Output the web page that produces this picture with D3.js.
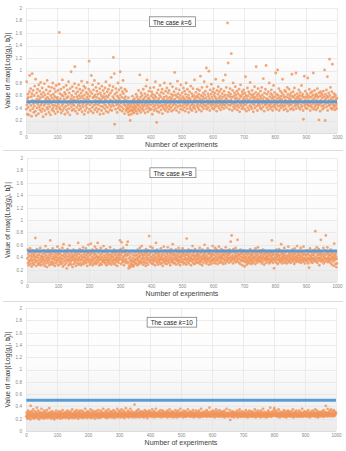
<!DOCTYPE html>
<html>
<head>
<meta charset="utf-8">
<script src="https://cdn.jsdelivr.net/npm/d3@7"></script>
<style>
  body { margin: 0; background: #fff; }
  svg { display: block; font-family: "Liberation Sans", Arial, sans-serif; }
</style>
</head>
<body>
<div id="chart"></div>
<script>
const caseK6 = [
38,82,45,30,55,62,41,57,29,48,66,92,50,36,71,44,58,27,63,95,52,39,68,47,33,
60,43,75,51,35,86,49,28,64,54,40,70,46,59,31,77,53,42,67,37,56,81,45,62,34,
48,72,39,58,26,65,50,44,79,36,61,47,55,30,69,52,41,84,57,38,63,46,74,33,54,
42,67,51,29,60,48,73,37,56,45,80,40,62,35,53,71,44,58,31,66,49,76,39,55,43,
57,34,68,46,52,78,161,41,63,38,55,70,32,49,61,44,85,36,59,47,73,40,54,65,30,
50,62,43,76,37,56,48,69,33,58,45,82,39,64,51,29,71,47,55,98,42,60,36,74,53,
46,67,38,57,44,79,106,52,35,63,49,72,41,58,31,66,54,45,77,37,60,48,70,43,56,
39,64,51,83,34,59,46,68,42,55,75,30,61,49,36,72,53,44,65,40,57,81,47,62,33,
54,70,115,38,59,45,66,50,35,92,48,63,41,77,56,32,69,44,58,84,37,61,52,46,73,
40,57,67,34,51,62,45,79,38,55,48,71,30,64,53,43,60,36,75,49,56,42,68,31,58,
47,63,39,72,54,44,82,35,59,50,66,41,57,33,70,48,61,45,76,37,53,64,42,89,51,
36,68,46,58,74,121,43,55,95,14,62,49,38,71,52,45,65,33,59,47,80,40,56,69,44,
53,37,98,61,48,72,42,57,35,66,50,84,39,63,46,55,31,70,44,58,36,52,67,41,49,
38,45,33,56,40,29,47,35,42,20,51,37,44,30,48,36,59,41,34,53,39,46,32,55,43,
37,50,41,62,35,47,58,31,44,54,39,68,46,36,52,93,42,57,33,64,48,38,60,45,53,
41,70,36,55,49,44,63,32,58,47,75,39,52,85,43,61,34,56,46,67,40,54,37,72,50,
45,59,38,66,51,30,62,47,56,42,73,36,53,60,44,82,39,57,48,17,64,35,52,45,69,
41,55,33,61,48,76,43,58,37,65,50,45,70,31,54,42,63,39,57,80,46,52,36,67,44,
59,40,72,48,55,34,64,51,43,68,38,57,46,79,53,41,62,35,56,49,74,44,60,37,52,
66,47,97,54,40,61,45,71,36,58,50,83,42,63,48,56,33,69,52,44,60,38,77,49,55,
43,64,51,37,58,72,46,55,41,67,53,35,62,48,80,44,57,39,70,52,46,61,33,56,49,
66,42,54,38,75,50,45,63,36,58,47,71,41,60,53,44,85,39,56,49,65,34,52,59,43,
70,46,57,40,62,51,37,68,55,44,91,48,60,35,53,73,42,58,47,64,39,55,82,45,61,
50,67,43,56,104,38,74,52,46,63,41,59,99,48,55,36,69,51,44,62,78,47,57,40,66,
53,45,71,38,60,49,64,42,57,86,46,54,35,68,51,43,62,74,48,56,40,66,52,45,59,
37,70,48,55,42,63,50,46,84,58,39,67,52,44,61,93,47,56,73,41,54,49,176,60,112,
45,65,51,38,58,71,44,62,53,127,47,57,36,68,49,80,42,59,46,64,39,55,74,48,61,
43,56,67,37,52,45,63,50,41,70,55,34,60,47,77,44,58,51,39,66,48,62,42,54,69,
46,57,38,64,52,90,45,60,35,55,48,72,41,59,50,66,37,53,63,44,81,49,56,42,61,
39,68,51,47,58,34,62,54,45,74,40,57,49,65,106,52,43,60,36,55,71,46,63,48,53,
44,59,40,67,50,56,38,73,47,61,53,42,87,49,57,35,64,51,45,70,46,108,55,41,62,
48,54,37,66,52,45,80,43,58,50,39,63,47,69,55,42,61,36,57,49,76,44,53,65,41,
58,46,96,51,38,62,47,55,101,43,60,49,71,36,56,52,44,67,40,59,48,54,64,45,86,
50,42,61,37,57,48,68,44,53,66,39,58,51,47,73,35,62,49,56,43,70,52,46,60,38,
55,64,45,51,94,40,59,48,66,37,57,50,72,43,61,53,46,96,39,56,49,63,44,58,52,
47,69,41,55,60,38,65,50,54,45,76,42,59,49,62,36,22,57,48,91,44,53,67,40,58,
51,46,63,39,56,88,45,60,52,43,70,48,57,36,64,50,44,58,41,66,53,47,61,96,38,
55,49,68,42,58,45,62,37,53,60,47,71,40,57,44,64,21,51,46,59,35,66,52,48,63,
43,56,61,38,50,67,45,58,41,101,53,20,62,47,55,69,42,59,90,36,57,48,64,44,52,
118,60,45,73,40,55,49,66,38,110,57,46,52,41,63,44,58,37,50,61,43,54,47,39,56
];

const caseK8 = [
38,52,31,45,27,41,35,49,33,54,29,43,37,47,25,40,34,51,30,44,36,28,46,42,39,
32,71,36,48,26,41,53,34,44,30,39,50,28,43,35,47,31,55,38,27,42,33,49,36,40,
45,29,37,51,33,41,26,46,35,58,30,43,38,24,48,34,40,52,31,36,44,27,39,47,67,
33,42,29,50,37,45,32,54,28,40,36,48,31,43,26,39,51,35,46,30,41,34,57,38,44,
27,47,36,52,32,40,45,29,38,49,34,43,30,55,37,25,42,61,33,46,39,28,50,35,41,
44,31,22,48,37,53,34,41,27,45,36,59,30,42,38,33,50,28,46,35,40,24,43,37,52,
29,41,35,47,32,44,38,26,50,36,42,30,46,34,63,39,28,45,37,53,31,41,35,48,27,
43,37,51,30,40,56,34,45,29,39,48,33,42,36,54,31,44,38,26,47,35,41,60,32,46,
37,50,28,43,35,62,31,46,39,34,52,27,41,36,48,30,44,38,57,33,45,29,40,53,35,
42,31,63,38,47,34,40,27,51,36,44,30,55,37,41,28,46,33,49,35,39,58,32,43,36,
48,30,40,35,53,27,44,38,32,46,36,41,29,50,34,43,37,56,31,45,39,28,42,35,49,
33,40,46,30,37,52,35,43,28,48,38,32,45,36,41,26,50,34,39,44,31,47,36,42,67,
38,53,44,29,64,36,47,32,41,55,35,39,27,49,43,34,46,31,51,37,42,60,33,45,65,
30,44,22,38,26,48,33,41,24,36,29,45,35,27,50,32,39,25,43,34,28,47,37,31,42,
35,49,30,44,38,27,52,36,41,33,46,29,40,55,34,43,31,48,37,58,32,45,39,28,42,
36,50,33,44,30,47,39,26,53,35,42,31,46,38,28,51,37,43,74,34,45,32,57,40,36,
48,30,41,35,55,29,44,38,33,50,36,42,27,47,39,63,34,45,31,52,37,41,28,46,35,
43,32,49,37,40,29,54,36,45,31,42,38,26,48,35,57,33,44,39,30,51,36,41,34,47,
29,45,38,56,33,42,36,50,31,47,39,27,44,35,53,40,32,46,37,61,34,43,30,49,38,
45,31,41,36,52,28,44,39,34,48,37,42,30,55,35,46,33,40,27,50,38,43,32,47,36,
41,54,33,45,29,47,37,42,31,50,36,39,44,28,70,35,46,32,43,38,52,30,41,36,48,
34,45,39,27,51,37,42,33,58,36,44,30,47,38,41,29,53,35,43,32,49,37,40,46,31,
44,36,50,32,42,38,55,29,46,35,41,33,48,37,27,52,39,43,31,45,36,40,60,34,47,
38,43,30,49,36,41,33,54,37,45,28,47,39,35,51,32,44,40,29,46,36,42,34,58,37,
45,31,50,38,43,35,55,30,47,40,34,52,37,44,29,48,36,41,57,33,45,39,31,49,42,
36,53,40,32,46,38,43,29,51,37,44,34,48,41,30,56,36,45,39,33,50,42,35,47,38,
44,31,52,39,46,35,65,41,33,75,38,48,36,43,30,53,40,37,49,34,45,39,55,32,42,
47,36,41,68,33,44,38,50,31,45,37,42,29,52,35,46,40,34,48,27,39,44,36,51,33,
42,25,38,46,32,40,35,49,28,44,37,31,47,34,41,39,30,45,36,53,33,42,38,29,46,
35,43,31,48,37,40,33,50,39,45,29,54,36,42,34,47,38,31,44,56,35,41,37,49,33,
40,46,34,51,38,43,30,47,36,41,33,52,39,45,28,44,37,49,35,40,31,46,38,42,36,
48,33,41,37,45,30,50,36,43,32,47,39,35,42,67,34,46,38,31,44,37,22,49,36,41,
33,45,38,52,31,42,36,47,29,44,40,35,53,37,43,32,48,39,34,61,36,45,30,41,38,
46,34,42,37,55,31,44,39,33,48,36,41,30,50,38,43,35,57,32,45,40,34,47,37,42,
31,49,38,44,35,52,40,33,46,37,42,29,54,36,45,39,32,48,41,35,58,38,43,34,47,
39,44,32,50,37,42,35,55,31,46,40,36,48,33,43,38,57,34,45,39,30,49,37,44,35,
42,36,51,33,45,39,30,47,37,23,43,35,54,38,41,32,48,36,44,39,31,50,37,43,34,
46,38,52,35,82,41,33,48,37,56,31,45,39,43,34,53,38,27,47,36,44,40,68,33,45,
37,49,34,42,36,55,30,45,39,41,33,51,37,75,44,35,48,38,56,32,46,40,36,43,34,
49,38,44,31,52,36,42,28,47,37,40,33,45,39,26,62,35,43,38,29,46,41,24,37,30
];

const caseK10 = [
24,30,22,27,20,33,25,28,21,31,23,26,29,19,41,25,32,22,27,24,30,21,35,26,23,
28,20,25,32,23,27,30,22,26,38,24,29,21,33,25,27,19,28,23,31,26,22,29,24,36,
21,27,25,30,22,28,24,33,20,26,29,23,31,25,27,22,34,24,28,21,26,30,23,25,37,
27,22,29,24,31,20,26,28,23,32,25,21,27,30,24,26,19,29,22,28,25,33,23,27,21,
26,30,23,28,22,25,32,24,27,20,29,25,31,23,26,28,21,34,24,27,22,30,25,23,29,
24,28,21,31,26,23,29,25,33,22,27,24,30,20,26,28,23,32,25,22,29,24,27,35,21,
28,23,26,30,24,27,21,32,25,29,22,26,34,24,28,23,31,20,27,25,29,22,33,26,24,
30,22,27,25,33,23,28,21,26,31,24,29,22,27,25,36,23,28,24,30,21,26,32,25,27,
23,29,25,31,22,27,24,35,26,21,30,25,28,23,33,26,22,29,24,27,31,25,20,28,26,
32,24,27,22,29,25,34,23,28,26,21,30,24,27,33,25,22,28,26,31,23,29,25,36,24,
27,23,30,25,28,22,33,26,24,29,21,31,25,27,23,35,26,28,24,30,22,27,32,25,29,
24,31,26,22,28,25,34,23,29,27,21,32,25,28,24,30,26,23,36,27,25,29,22,33,26,
28,25,32,24,29,22,27,35,26,30,23,28,25,33,24,27,21,31,26,29,24,37,25,28,23,
30,26,24,33,27,22,29,25,31,28,23,36,26,29,24,27,32,25,22,28,26,30,24,27,43,
25,29,22,31,26,28,24,33,27,23,30,25,35,26,29,22,28,31,25,27,24,32,26,29,23,
28,24,31,26,22,29,27,34,25,30,23,28,26,32,24,27,21,30,25,29,26,33,24,28,25,
31,26,28,23,30,25,35,27,24,29,26,32,22,28,25,31,27,24,36,26,29,23,28,25,30,
26,29,24,32,27,23,28,25,34,26,30,22,27,29,25,33,24,28,26,31,23,27,25,30,28,
24,30,27,25,33,22,28,26,31,24,29,27,35,25,23,30,26,28,24,32,27,25,29,22,31,
27,25,30,23,28,26,34,24,29,27,22,31,25,28,26,33,24,30,27,23,29,25,36,26,28,
25,31,24,28,26,30,22,27,33,25,29,24,28,26,32,23,27,30,25,28,24,35,26,29,27,
30,24,28,26,32,23,29,25,27,31,24,28,26,34,25,22,29,27,30,24,28,26,33,25,27,
23,29,26,31,24,28,25,33,27,22,30,26,28,24,36,25,29,27,23,31,26,28,24,30,25,
28,26,32,24,29,25,27,34,23,28,26,31,25,29,24,27,38,26,30,23,28,25,32,27,24,
29,25,27,33,24,30,26,28,22,31,27,25,35,26,29,24,28,32,25,27,30,23,26,34,28,
24,30,26,28,25,32,23,29,27,25,31,24,28,26,33,22,27,30,25,28,24,36,26,29,25,
27,23,30,25,28,26,34,24,18,27,29,25,31,23,28,26,32,24,29,27,22,30,25,28,26,
30,25,27,24,33,26,29,22,28,25,31,27,24,35,26,28,23,30,25,27,32,24,29,26,23,
26,29,24,31,27,25,28,23,34,26,30,24,28,25,22,31,27,29,24,26,33,25,28,23,30,
25,28,26,32,24,29,23,27,30,25,28,26,35,24,27,22,31,26,29,24,28,25,33,27,24,
29,24,27,31,25,28,22,33,26,29,24,27,30,25,36,23,28,26,31,24,27,25,29,22,28,
24,30,26,28,23,33,27,25,31,24,29,26,38,25,28,23,30,27,24,32,26,29,25,27,34,
37,28,25,31,26,29,24,33,27,25,30,23,28,26,35,24,29,27,22,31,25,28,26,30,24,
27,25,31,24,28,26,34,23,29,27,25,32,24,28,22,30,26,29,25,33,24,27,31,25,28,
24,29,26,32,25,28,23,30,27,24,35,26,29,22,28,25,31,24,27,30,25,33,26,28,23,
28,25,30,24,27,33,26,23,29,25,31,27,24,28,26,36,23,29,25,27,30,24,32,26,25,
26,30,24,28,25,32,27,23,29,26,34,25,28,24,30,22,27,31,25,28,26,29,24,33,27,
25,28,26,31,24,29,27,35,23,28,25,30,26,33,24,27,22,29,25,31,26,28,24,30,27,
29,24,27,32,25,28,26,30,23,34,27,25,29,24,31,26,41,28,25,30,24,27,36,26,29,
26,31,24,28,33,25,29,27,35,24,30,26,28,25,32,27,24,34,26,29,25,31,27,28,30
];

const caseLabels = ["6", "8", "10"];
const xTickValues = [0, 100, 200, 300, 400, 500, 600, 700, 800, 900, 1000];
const yTickValues = [0, 0.2, 0.4, 0.6, 0.8, 1, 1.2, 1.4, 1.6, 1.8, 2];
const threshold = 0.5;

// layout of the three stacked charts
const W = 346, H = 451;
const panels = [
  {data: caseK6,  label: caseLabels[0], top: 8,   bottom: 133, left: 26, right: 337, boxDy: 13.5},
  {data: caseK8,  label: caseLabels[1], top: 158, bottom: 282, left: 27, right: 337, boxDy: 14.5},
  {data: caseK10, label: caseLabels[2], top: 308, bottom: 431, left: 26, right: 336, boxDy: 14}
];

const svg = d3.select("#chart").append("svg")
    .attr("width", W)
    .attr("height", H);

const grad = svg.append("defs").append("linearGradient")
    .attr("id", "plotBg")
    .attr("x1", 0).attr("y1", 0).attr("x2", 0).attr("y2", 1);
grad.append("stop").attr("offset", "0%").attr("stop-color", "#ffffff");
grad.append("stop").attr("offset", "45%").attr("stop-color", "#fcfcfc");
grad.append("stop").attr("offset", "100%").attr("stop-color", "#ebebeb");

// faint frame lines between the charts
svg.selectAll(".sep")
    .data([150.5, 301.5])
  .enter().append("line")
    .attr("x1", 3).attr("x2", 343)
    .attr("y1", d => d).attr("y2", d => d)
    .attr("stroke", "#dcdcdc")
    .attr("stroke-width", 1);

const fmt = d => String(+d.toFixed(1));

panels.forEach(function(p) {
  const g = svg.append("g");

  const x = d3.scaleLinear().domain([0, 1000]).range([p.left, p.right]);
  const y = d3.scaleLinear().domain([0, 2]).range([p.bottom, p.top]);

  g.append("rect")
      .attr("x", p.left).attr("y", p.top)
      .attr("width", p.right - p.left)
      .attr("height", p.bottom - p.top)
      .attr("fill", "url(#plotBg)");

  // gridlines
  g.selectAll(".hgrid")
      .data(yTickValues)
    .enter().append("line")
      .attr("x1", p.left).attr("x2", p.right)
      .attr("y1", d => Math.round(y(d)) + 0.5)
      .attr("y2", d => Math.round(y(d)) + 0.5)
      .attr("stroke", d => d === 0 ? "#d0d0d0" : "#e4e4e4")
      .attr("stroke-width", 0.7);

  g.selectAll(".vgrid")
      .data(xTickValues)
    .enter().append("line")
      .attr("y1", p.top).attr("y2", p.bottom)
      .attr("x1", d => Math.round(x(d)) + 0.5)
      .attr("x2", d => Math.round(x(d)) + 0.5)
      .attr("stroke", "#e4e4e4")
      .attr("stroke-width", 0.7);

  // axes
  const ya = g.append("g")
      .attr("transform", "translate(" + p.left + ",0)")
      .call(d3.axisLeft(y).tickValues(yTickValues).tickSize(0).tickPadding(4).tickFormat(fmt));
  const xa = g.append("g")
      .attr("transform", "translate(0," + p.bottom + ")")
      .call(d3.axisBottom(x).tickValues(xTickValues).tickSize(0).tickPadding(3).tickFormat(d3.format("d")));
  [ya, xa].forEach(function(a) {
    a.select(".domain").remove();
    a.selectAll("text")
        .attr("font-size", "4.6px")
        .attr("fill", "#8a8a8a")
        .attr("font-family", "Liberation Sans, Arial, sans-serif");
  });

  // points
  g.append("g").selectAll("circle")
      .data(p.data)
    .enter().append("circle")
      .attr("cx", (d, i) => x(i + 1))
      .attr("cy", d => y(d / 100))
      .attr("r", 1.4)
      .attr("fill", "#f29459")
      .attr("fill-opacity", 0.82);

  // threshold line
  const line = d3.line().x(d => x(d[0])).y(d => y(d[1]));
  g.append("path")
      .attr("d", line([[1, threshold], [p.data.length, threshold]]))
      .attr("stroke", "#5b9bd5")
      .attr("stroke-width", 3)
      .attr("fill", "none");

  // axis titles
  g.append("text")
      .attr("x", (p.left + p.right) / 2)
      .attr("y", p.bottom + 14)
      .attr("text-anchor", "middle")
      .attr("font-size", "7px")
      .attr("fill", "#404040")
      .text("Number of experiments");

  const yt = g.append("text")
      .attr("transform", "translate(10," + ((p.top + p.bottom) / 2) + ") rotate(-90)")
      .attr("text-anchor", "middle")
      .attr("font-size", "6.6px")
      .attr("fill", "#404040");
  yt.append("tspan").text("Value of max|\u27E8Log(");
  yt.append("tspan").attr("font-style", "italic").text("g");
  yt.append("tspan").attr("font-size", "4.5px").attr("dy", "1.5").attr("font-style", "italic").text("i");
  yt.append("tspan").attr("dy", "-1.5").text("), ");
  yt.append("tspan").attr("font-weight", "bold").text("b");
  yt.append("tspan").attr("font-size", "4.5px").attr("dy", "-2.5").text("*");
  yt.append("tspan").attr("font-size", "4.5px").attr("dx", "-2.2").attr("dy", "4").attr("font-style", "italic").text("j");
  yt.append("tspan").attr("dy", "-1.5").text("\u27E9|");

  // case label box
  const cx = x(470);
  const box = g.append("g").attr("transform", "translate(" + cx + "," + (p.top + p.boxDy) + ")");
  const bt = box.append("text")
      .attr("x", 0).attr("y", 0)
      .attr("text-anchor", "middle")
      .attr("dominant-baseline", "central")
      .attr("font-size", "6.4px")
      .attr("fill", "#262626");
  bt.append("tspan").text("The case ");
  bt.append("tspan").attr("font-style", "italic").text("k");
  bt.append("tspan").text("=" + p.label);
  const bb = bt.node().getBBox();
  box.insert("rect", "text")
      .attr("x", bb.x - 3.5).attr("y", -4.7)
      .attr("width", bb.width + 7).attr("height", 9.8)
      .attr("fill", "#ffffff")
      .attr("stroke", "#7f7f7f")
      .attr("stroke-width", 0.8);
});
</script>
</body>
</html>
